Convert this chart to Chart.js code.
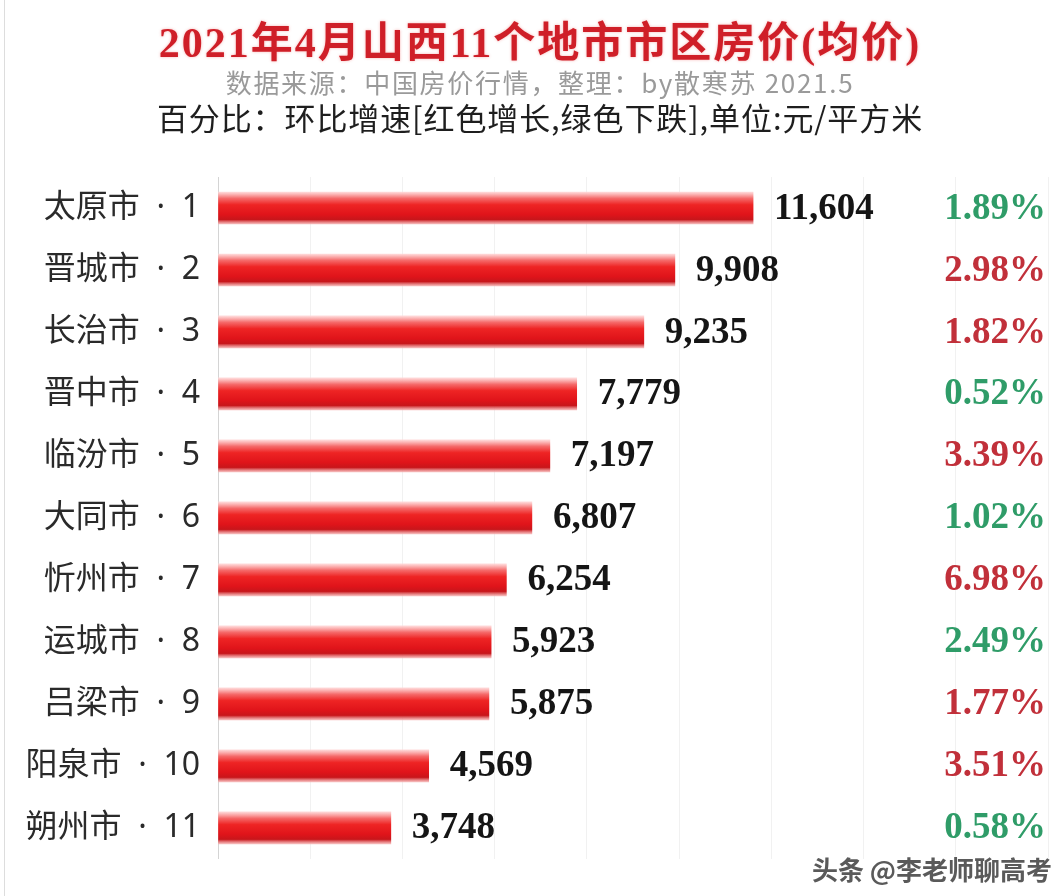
<!DOCTYPE html>
<html>
<head>
<meta charset="utf-8">
<script src="https://cdn.jsdelivr.net/npm/chart.js@4/dist/chart.umd.min.js"></script>
<style>
    html, body { margin: 0; padding: 0; background: #fff; }
    .page { position: relative; width: 1064px; height: 896px; overflow: hidden; }
    .edge { position: absolute; left: 4px; top: 0; width: 1px; height: 896px; background: #ddd; }
    .head { position: absolute; left: 0; width: 1080px; text-align: center; white-space: nowrap; }
    .title { top: 8px; font: bold 42px "Liberation Serif", "Noto Sans CJK SC", serif; color: #cf1f28;
             text-shadow: 0 0 3px rgba(230, 40, 40, 0.35); letter-spacing: 2px; }
    .sub { top: 63px; font: 26px "Noto Sans CJK SC", sans-serif; color: #9a9a9a; letter-spacing: 1.7px; }
    .note { top: 94px; font: 31px "Noto Sans CJK SC", sans-serif; color: #1e1e1e; letter-spacing: 0.9px; }
    .mark { position: absolute; right: 12px; top: 850px; font: bold 26px "Noto Sans CJK SC", sans-serif;
            color: #5a5a5a; text-shadow: 0 0 3px #fff, 0 0 3px #fff; }
    canvas { position: absolute; left: 0; top: 0; }
</style>
</head>
<body>
<div class="page">
    <div class="edge"></div>
    <canvas id="priceChart" width="1064" height="896"></canvas>
    <div class="head title">2021年4月山西11个地市市区房价(均价)</div>
    <div class="head sub">数据来源：中国房价行情，整理：by散寒苏 2021.5</div>
    <div class="head note">百分比：环比增速[红色增长,绿色下跌],单位:元/平方米</div>
    <div class="mark">头条 @李老师聊高考</div>
</div>
<script>
// Data
const cities = ['太原市', '晋城市', '长治市', '晋中市', '临汾市', '大同市', '忻州市', '运城市', '吕梁市', '阳泉市', '朔州市'];
const ranks = [1, 2, 3, 4, 5, 6, 7, 8, 9, 10, 11];
const avgPrice = [11604, 9908, 9235, 7779, 7197, 6807, 6254, 5923, 5875, 4569, 3748];
// month-on-month change, red = rise, green = fall
const pctChange = [-1.89, 2.98, 1.82, -0.52, 3.39, -1.02, 6.98, -2.49, 1.77, 3.51, -0.58];

const categoryLabels = cities.map((c, i) => `${c}  ·  ${ranks[i]}`);

// Colors
const RISE_COLOR = '#c1303a';
const FALL_COLOR = '#2f9c68';
const BAR_HALF = 16;

function barGradient(ctx) {
    const chart = ctx.chart;
    if (!chart.chartArea || !chart.scales.y) return '#e81c1c';
    const y = chart.scales.y.getPixelForValue(ctx.dataIndex);
    const g = chart.ctx.createLinearGradient(0, y - BAR_HALF, 0, y + BAR_HALF);
    g.addColorStop(0, 'rgba(255, 215, 215, 0.9)');
    g.addColorStop(0.2, '#f56a6a');
    g.addColorStop(0.4, '#ee2424');
    g.addColorStop(0.7, '#e0141a');
    g.addColorStop(0.86, '#c8161b');
    g.addColorStop(1, 'rgba(245, 170, 170, 0.8)');
    return g;
}

// Value + percent labels
const labelPlugin = {
    id: 'labels',
    afterDatasetsDraw(chart) {
        const ctx = chart.ctx;
        const meta = chart.getDatasetMeta(0);
        ctx.save();
        ctx.textBaseline = 'middle';
        ctx.font = 'bold 37px "Liberation Serif", serif';
        meta.data.forEach((bar, i) => {
            ctx.textAlign = 'left';
            ctx.fillStyle = '#151515';
            ctx.fillText(avgPrice[i].toLocaleString('en-US'), bar.x + 21, bar.y + 1);

            const p = pctChange[i];
            ctx.textAlign = 'right';
            ctx.fillStyle = p >= 0 ? RISE_COLOR : FALL_COLOR;
            ctx.fillText(Math.abs(p).toFixed(2) + '%', chart.chartArea.right - 2, bar.y + 1);
        });
        ctx.restore();
    }
};

new Chart(document.getElementById('priceChart'), {
    type: 'bar',
    data: {
        labels: categoryLabels,
        datasets: [{
            data: avgPrice,
            backgroundColor: barGradient,
            borderWidth: 0,
            barThickness: 32
        }]
    },
    options: {
        indexAxis: 'y',
        responsive: false,
        animation: false,
        layout: { padding: { top: 177, bottom: 30, left: 0, right: 16 } },
        plugins: {
            legend: { display: false },
            tooltip: { enabled: false }
        },
        scales: {
            x: {
                min: 0,
                max: 18000,
                ticks: { display: false, stepSize: 2000 },
                grid: { color: '#f1f1f1', drawTicks: false },
                border: { display: false }
            },
            y: {
                afterFit(scale) { scale.width = 218; },
                ticks: {
                    padding: 18,
                    color: '#2a2a2a',
                    font: { family: '"Noto Sans", "Noto Sans CJK SC", sans-serif', size: 32 }
                },
                grid: { display: false, drawTicks: false },
                border: { display: true, color: '#d4d4d4' }
            }
        }
    },
    plugins: [labelPlugin]
});
</script>
</body>
</html>
